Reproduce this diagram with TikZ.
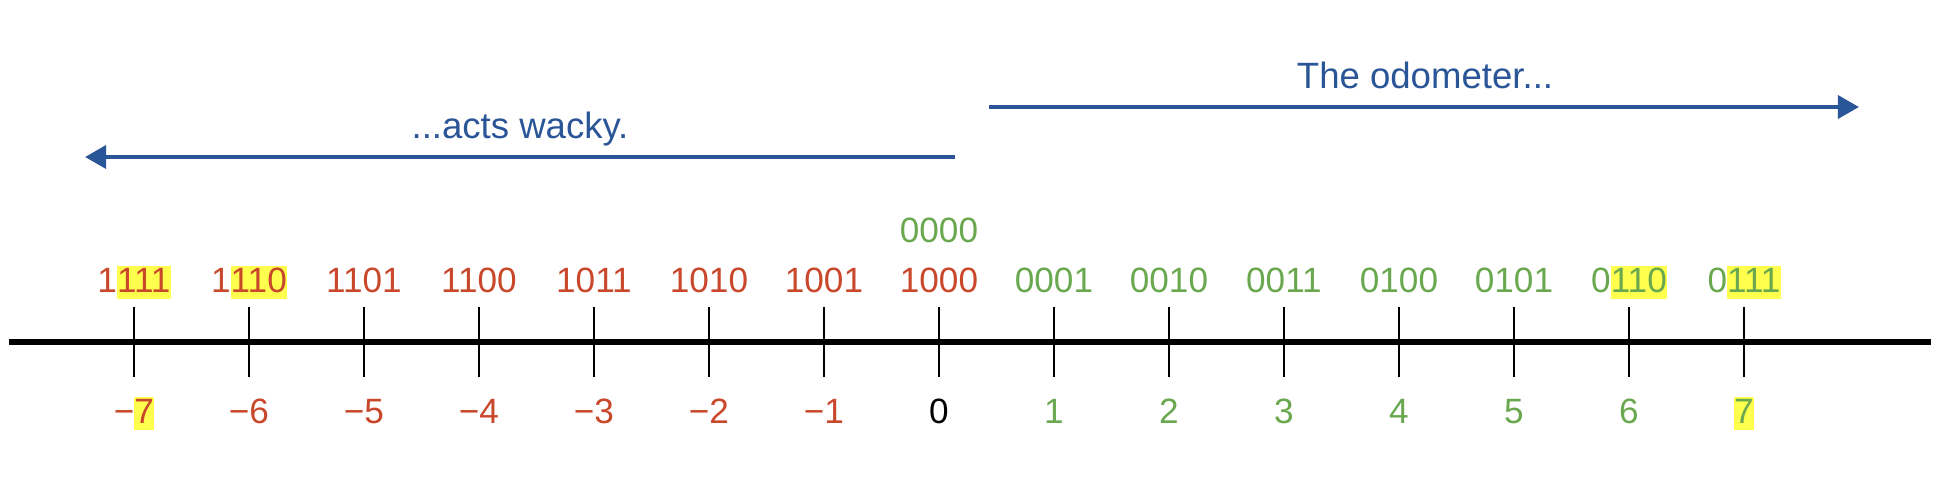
\documentclass[tikz,border=0pt]{standalone}
\usepackage{fontspec}
\setmainfont{Liberation Sans}
\usetikzlibrary{arrows.meta}
\definecolor{odoblue}{HTML}{2A5597}
\definecolor{negred}{HTML}{C9472A}
\definecolor{posgreen}{HTML}{6AA84F}
\definecolor{hlyellow}{HTML}{FFFF4D}
\newcommand{\hilite}[1]{{\setlength{\fboxsep}{0pt}\colorbox{hlyellow}{\rule[-2pt]{0pt}{9.4pt}#1}}}
\tikzset{
  lbl/.style={anchor=base, inner sep=0pt, font=\fontsize{10}{12}\selectfont},
  note/.style={anchor=base, inner sep=0pt, text=odoblue, font=\fontsize{10.4}{12}\selectfont},
  tick/.style={line width=0.6pt},
  pointer/.style={odoblue, line width=1.15pt, -{Triangle[length=6pt,width=6.5pt]}}
}
\begin{document}
\begin{tikzpicture}[x=0.01cm, y=-0.01cm]
  \useasboundingbox (0,0) rectangle (1938,496);
  % number line
  \coordinate (axl) at (9,342);
  \coordinate (axr) at (1931,342);
  \draw[line width=1.7pt] (axl) -- (axr);
  \foreach \v/\bits/\num/\bc/\nc [count=\k] in {
      -7/1\hilite{111}/{−\hilite{7}}/negred/negred,
      -6/1\hilite{110}/−6/negred/negred,
      -5/1101/−5/negred/negred,
      -4/1100/−4/negred/negred,
      -3/1011/−3/negred/negred,
      -2/1010/−2/negred/negred,
      -1/1001/−1/negred/negred,
      0/1000/0/negred/black,
      1/0001/1/posgreen/posgreen,
      2/0010/2/posgreen/posgreen,
      3/0011/3/posgreen/posgreen,
      4/0100/4/posgreen/posgreen,
      5/0101/5/posgreen/posgreen,
      6/0\hilite{110}/6/posgreen/posgreen,
      7/0\hilite{111}/{\hilite{7}}/posgreen/posgreen}
  {
    \pgfmathsetmacro{\x}{939+115*\v}
    \draw[tick] (\x,307) -- (\x,377);
    \node[lbl, text=\bc] (b\k) at (\x,292) {\bits};
    \node[lbl, text=\nc] (v\k) at (\x,423) {\num};
  }
  \node[lbl, text=posgreen] (zero) at (939,242) {0000};
  % arrows
  \coordinate (fwdL) at (989,107);
  \coordinate (fwdR) at (1859,107);
  \draw[pointer] (fwdL) -- (fwdR);
  \node[note] (odo) at (1425,88) {The odometer...};
  \coordinate (backR) at (955,157);
  \coordinate (backL) at (85,157);
  \draw[pointer] (backR) -- (backL);
  \node[note] (wacky) at (520,138) {...acts wacky.};
\end{tikzpicture}
\end{document}
